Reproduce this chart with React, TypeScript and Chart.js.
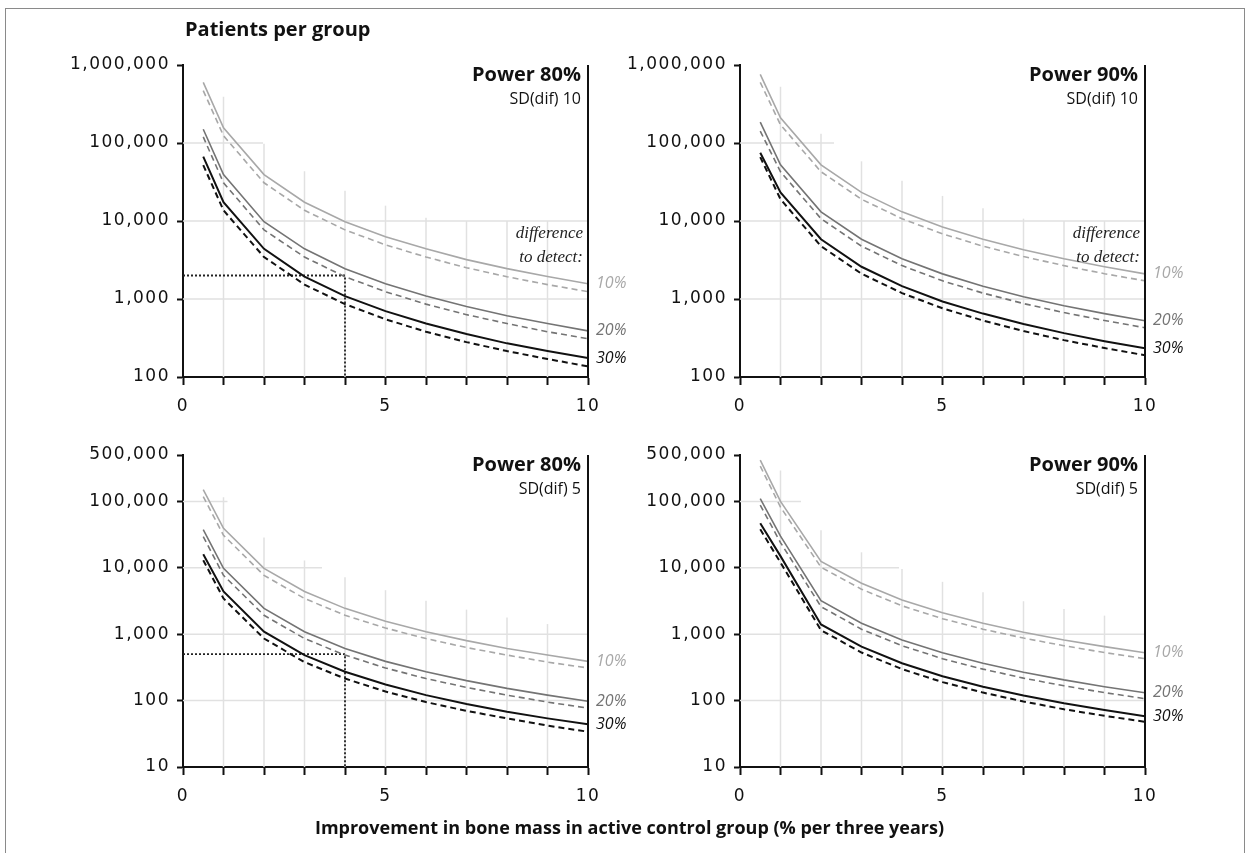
import React, { useEffect, useRef } from 'react';
import { Chart, registerables } from 'chart.js';

Chart.register(...registerables);

// ---------- data ----------
const X_VALUES = [0.5, 1, 2, 3, 4, 5, 6, 7, 8, 9, 10];
const X_TICK_LABELS = [0, 5, 10];
const TOP_Y_TICKS = [100, 1000, 10000, 100000, 1000000];
const BOTTOM_Y_TICKS = [10, 100, 1000, 10000, 100000, 500000];
const SERIES_LABELS = ['10%', '20%', '30%'];

// Power 80%, SD(dif) 10
const TL_S10 = [600000, 157000, 39300, 17400, 9800, 6300, 4400, 3200, 2450, 1940, 1570];
const TL_S20 = [150000, 39300, 9800, 4400, 2450, 1570, 1090, 800, 610, 485, 390];
const TL_S30 = [67000, 17400, 4400, 1940, 1090, 700, 485, 355, 270, 215, 175];
const TL_D10 = [470000, 124000, 30900, 13700, 7700, 4950, 3450, 2520, 1930, 1530, 1240];
const TL_D20 = [120000, 30900, 7700, 3450, 1930, 1240, 860, 630, 485, 380, 310];
const TL_D30 = [52000, 13700, 3450, 1530, 860, 550, 380, 280, 215, 170, 137];

// Power 90%, SD(dif) 10
const TR_S10 = [760000, 210000, 52500, 23300, 13100, 8400, 5840, 4290, 3280, 2590, 2100];
const TR_S20 = [185000, 52500, 13100, 5840, 3280, 2100, 1460, 1070, 820, 650, 525];
const TR_S30 = [75000, 23300, 5840, 2590, 1460, 930, 650, 477, 365, 288, 233];
const TR_D10 = [600000, 171000, 42800, 19000, 10700, 6850, 4760, 3500, 2680, 2110, 1710];
const TR_D20 = [142000, 42800, 10700, 4760, 2680, 1710, 1190, 874, 670, 530, 428];
const TR_D30 = [66000, 19000, 4760, 2110, 1190, 760, 530, 388, 297, 235, 190];

// Power 80%, SD(dif) 5
const BL_S10 = [150000, 39300, 9800, 4400, 2450, 1570, 1090, 800, 610, 485, 390];
const BL_S20 = [37500, 9800, 2450, 1090, 610, 390, 272, 200, 153, 121, 98];
const BL_S30 = [16000, 4400, 1090, 485, 272, 175, 121, 89, 68, 54, 44];
const BL_D10 = [118000, 30900, 7700, 3450, 1930, 1240, 860, 630, 485, 380, 310];
const BL_D20 = [29500, 7700, 1930, 860, 485, 310, 215, 158, 121, 95, 77];
const BL_D30 = [13000, 3450, 860, 380, 215, 137, 95, 70, 54, 42, 34];

// Power 90%, SD(dif) 5
const BR_S10 = [420000, 100000, 12500, 5840, 3280, 2100, 1460, 1070, 820, 650, 525];
const BR_S20 = [110000, 30000, 3200, 1460, 820, 525, 365, 268, 205, 162, 131];
const BR_S30 = [47000, 15000, 1400, 650, 365, 233, 162, 119, 91, 72, 58];
const BR_D10 = [340000, 82000, 10200, 4760, 2680, 1710, 1190, 874, 670, 530, 428];
const BR_D20 = [88000, 24000, 2600, 1190, 670, 428, 298, 218, 167, 132, 107];
const BR_D30 = [38000, 12000, 1150, 530, 298, 190, 132, 97, 74, 59, 48];

// dotted reading guides
const GUIDE_X = [0, 4, 4];
const GUIDE_TL_Y = [2000, 2000, 100];
const GUIDE_BL_Y = [500, 500, 10];

// ---------- styles ----------
const PAGE_W = 1259;
const PAGE_H = 853;
const Y_AXIS_W = 150;
const X_AXIS_H = 40;
const GRID_OFFSET = 31;
const GRID_COLOR = '#e1e1e1';
const AXIS_COLOR = '#111111';
const SERIES_COLORS = ['#a8a8a8', '#747474', '#111111'];
const SOLID_WIDTHS = [1.6, 1.6, 2];
const DASH = [6, 4];
const NUM_FONT = 'DejaVu Sans';
const TEXT_FONT = '"Open Sans"';

type PanelCfg = {
  area: { left: number; right: number; top: number; bottom: number };
  yMin: number;
  yMax: number;
  yTicks: number[];
  solid: number[][];
  dashed: number[][];
  title: string;
  subtitle: string;
  diff: boolean;
  guideY: number[] | null;
};

const PANELS: PanelCfg[] = [
  {
    area: { left: 183, right: 588, top: 65, bottom: 377 },
    yMin: 100, yMax: 1000000, yTicks: TOP_Y_TICKS,
    solid: [TL_S10, TL_S20, TL_S30], dashed: [TL_D10, TL_D20, TL_D30],
    title: 'Power 80%', subtitle: 'SD(dif) 10', diff: true, guideY: GUIDE_TL_Y,
  },
  {
    area: { left: 740, right: 1145, top: 65, bottom: 377 },
    yMin: 100, yMax: 1000000, yTicks: TOP_Y_TICKS,
    solid: [TR_S10, TR_S20, TR_S30], dashed: [TR_D10, TR_D20, TR_D30],
    title: 'Power 90%', subtitle: 'SD(dif) 10', diff: true, guideY: null,
  },
  {
    area: { left: 183, right: 588, top: 455, bottom: 767 },
    yMin: 10, yMax: 500000, yTicks: BOTTOM_Y_TICKS,
    solid: [BL_S10, BL_S20, BL_S30], dashed: [BL_D10, BL_D20, BL_D30],
    title: 'Power 80%', subtitle: 'SD(dif) 5', diff: false, guideY: GUIDE_BL_Y,
  },
  {
    area: { left: 740, right: 1145, top: 455, bottom: 767 },
    yMin: 10, yMax: 500000, yTicks: BOTTOM_Y_TICKS,
    solid: [BR_S10, BR_S20, BR_S30], dashed: [BR_D10, BR_D20, BR_D30],
    title: 'Power 90%', subtitle: 'SD(dif) 5', diff: false, guideY: null,
  },
];

function makeGridPlugin(cfg: PanelCfg) {
  return {
    id: 'partialGrid',
    beforeDatasetsDraw(chart: any) {
      const { ctx, chartArea } = chart;
      const xs = chart.scales.x;
      const ys = chart.scales.y;
      const top = cfg.solid[0];
      const pts = X_VALUES.map((xv, i) => ({
        px: xs.getPixelForValue(xv),
        py: ys.getPixelForValue(top[i]) - GRID_OFFSET,
      }));
      const last = top[top.length - 1];
      const floorY = ys.getPixelForValue(Math.pow(10, Math.ceil(Math.log10(last))));
      const env = (px: number) => {
        let py: number;
        if (px <= pts[0].px) py = pts[0].py;
        else if (px >= pts[pts.length - 1].px) py = pts[pts.length - 1].py;
        else {
          py = pts[0].py;
          for (let i = 0; i < pts.length - 1; i++) {
            const a = pts[i];
            const b = pts[i + 1];
            if (px >= a.px && px <= b.px) {
              py = a.py + ((px - a.px) / (b.px - a.px)) * (b.py - a.py);
              break;
            }
          }
        }
        return Math.min(py, floorY);
      };
      ctx.save();
      ctx.strokeStyle = GRID_COLOR;
      ctx.lineWidth = 1.5;
      for (let v = 1; v <= 9; v++) {
        const px = xs.getPixelForValue(v);
        ctx.beginPath();
        ctx.moveTo(px, chartArea.bottom);
        ctx.lineTo(px, Math.max(env(px), chartArea.top));
        ctx.stroke();
      }
      cfg.yTicks.forEach((v) => {
        if (v === cfg.yMin || v === cfg.yMax) return;
        const py = ys.getPixelForValue(v);
        let end = chartArea.left;
        for (let px = chartArea.left; px <= chartArea.right; px += 0.5) {
          if (env(px) <= py) end = px;
          else break;
        }
        if (end > chartArea.left) {
          ctx.beginPath();
          ctx.moveTo(chartArea.left, py);
          ctx.lineTo(end, py);
          ctx.stroke();
        }
      });
      ctx.restore();
    },
  };
}

function makeTextPlugin(cfg: PanelCfg) {
  return {
    id: 'panelText',
    beforeDraw(chart: any) {
      chart.ctx.letterSpacing = '1.5px';
    },
    afterDatasetsDraw(chart: any) {
      const { ctx, chartArea } = chart;
      const ys = chart.scales.y;
      ctx.save();
      ctx.letterSpacing = '0px';
      // right-hand axis line
      ctx.strokeStyle = AXIS_COLOR;
      ctx.lineWidth = 2;
      ctx.beginPath();
      ctx.moveTo(chartArea.right, chartArea.top);
      ctx.lineTo(chartArea.right, chartArea.bottom);
      ctx.stroke();
      // titles
      ctx.fillStyle = '#111';
      ctx.textAlign = 'right';
      ctx.textBaseline = 'alphabetic';
      ctx.font = `bold 20px ${TEXT_FONT}`;
      ctx.fillText(cfg.title, chartArea.right - 7, chartArea.top + 16);
      ctx.font = `16px ${TEXT_FONT}`;
      ctx.fillText(cfg.subtitle, chartArea.right - 7, chartArea.top + 39);
      if (cfg.diff) {
        ctx.font = `italic 17px "Liberation Serif"`;
        ctx.fillStyle = '#222';
        ctx.fillText('difference', chartArea.right - 5, chartArea.top + 173);
        ctx.fillText('to detect:', chartArea.right - 5, chartArea.top + 197);
      }
      // series labels
      ctx.textAlign = 'left';
      ctx.textBaseline = 'middle';
      ctx.font = `italic 16px ${TEXT_FONT}`;
      cfg.solid.forEach((s, i) => {
        ctx.fillStyle = SERIES_COLORS[i];
        ctx.fillText(SERIES_LABELS[i], chartArea.right + 8, ys.getPixelForValue(s[s.length - 1]));
      });
      ctx.restore();
    },
  };
}

function Panel({ cfg }: { cfg: PanelCfg }) {
  const ref = useRef<HTMLCanvasElement | null>(null);
  useEffect(() => {
    if (!ref.current) return;
    const toPts = (arr: number[]) => X_VALUES.map((x, i) => ({ x, y: arr[i] }));
    const datasets: any[] = [];
    cfg.dashed.forEach((s, i) => {
      datasets.push({
        data: toPts(s),
        borderColor: SERIES_COLORS[i],
        borderWidth: SOLID_WIDTHS[i],
        borderDash: DASH,
        pointRadius: 0,
        tension: 0,
      });
    });
    cfg.solid.forEach((s, i) => {
      datasets.push({
        data: toPts(s),
        borderColor: SERIES_COLORS[i],
        borderWidth: SOLID_WIDTHS[i],
        pointRadius: 0,
        tension: 0,
      });
    });
    if (cfg.guideY) {
      datasets.push({
        data: GUIDE_X.map((x, i) => ({ x, y: cfg.guideY![i] })),
        borderColor: '#222',
        borderWidth: 1.8,
        borderDash: [2, 2],
        pointRadius: 0,
        tension: 0,
      });
    }
    const tickFont = { family: NUM_FONT, size: 17 };
    const chart = new Chart(ref.current, {
      type: 'line',
      data: { datasets },
      plugins: [makeGridPlugin(cfg), makeTextPlugin(cfg)],
      options: {
        responsive: false,
        animation: false,
        devicePixelRatio: 1,
        events: [],
        layout: {
          padding: {
            left: cfg.area.left - Y_AXIS_W,
            right: PAGE_W - cfg.area.right,
            top: cfg.area.top,
            bottom: PAGE_H - cfg.area.bottom - X_AXIS_H,
          },
        },
        plugins: { legend: { display: false }, tooltip: { enabled: false } },
        scales: {
          x: {
            type: 'linear',
            min: 0,
            max: 10,
            afterFit: (s: any) => { s.height = X_AXIS_H; },
            ticks: {
              stepSize: 1,
              autoSkip: false,
              maxRotation: 0,
              padding: 11,
              font: tickFont,
              color: '#111',
              callback: (v: any) => (X_TICK_LABELS.includes(Number(v)) ? String(v) : ''),
            },
            grid: { drawOnChartArea: false, drawTicks: true, tickLength: 8, tickWidth: 2, tickColor: AXIS_COLOR },
            border: { display: true, color: AXIS_COLOR, width: 2 },
          },
          y: {
            type: 'logarithmic',
            min: cfg.yMin,
            max: cfg.yMax,
            afterFit: (s: any) => { s.width = Y_AXIS_W; },
            afterBuildTicks: (s: any) => { s.ticks = cfg.yTicks.map((v) => ({ value: v })); },
            ticks: {
              padding: 7,
              font: tickFont,
              color: '#111',
              callback: (v: any) => Number(v).toLocaleString('en-US'),
            },
            grid: { drawOnChartArea: false, drawTicks: true, tickLength: 6, tickWidth: 2, tickColor: AXIS_COLOR },
            border: { display: true, color: AXIS_COLOR, width: 2 },
          },
        },
      } as any,
    });
    return () => chart.destroy();
  }, [cfg]);
  return (
    <canvas
      ref={ref}
      width={PAGE_W}
      height={PAGE_H}
      style={{ position: 'absolute', left: 0, top: 0, width: PAGE_W, height: PAGE_H }}
    />
  );
}

export default function App() {
  return (
    <div
      style={{
        position: 'absolute',
        left: 0,
        top: 0,
        width: PAGE_W,
        height: PAGE_H,
        background: '#ffffff',
        overflow: 'hidden',
        fontFamily: TEXT_FONT,
      }}
    >
      <div
        style={{
          position: 'absolute',
          left: 5,
          top: 8,
          width: 1238,
          height: 860,
          borderLeft: '1.5px solid #8a8a8a',
          borderTop: '1.5px solid #8a8a8a',
          borderRight: '1.5px solid #8a8a8a',
        }}
      />
      {PANELS.map((p, i) => (
        <Panel key={i} cfg={p} />
      ))}
      <div
        style={{
          position: 'absolute',
          left: 185,
          top: 17,
          fontWeight: 700,
          fontSize: 20,
          lineHeight: '24px',
          color: '#111',
          whiteSpace: 'nowrap',
        }}
      >
        Patients per group
      </div>
      <div
        style={{
          position: 'absolute',
          left: 0,
          width: PAGE_W,
          top: 817,
          textAlign: 'center',
          fontWeight: 700,
          fontSize: 18,
          lineHeight: '20px',
          color: '#111',
          whiteSpace: 'nowrap',
        }}
      >
        Improvement in bone mass in active control group (% per three years)
      </div>
    </div>
  );
}
